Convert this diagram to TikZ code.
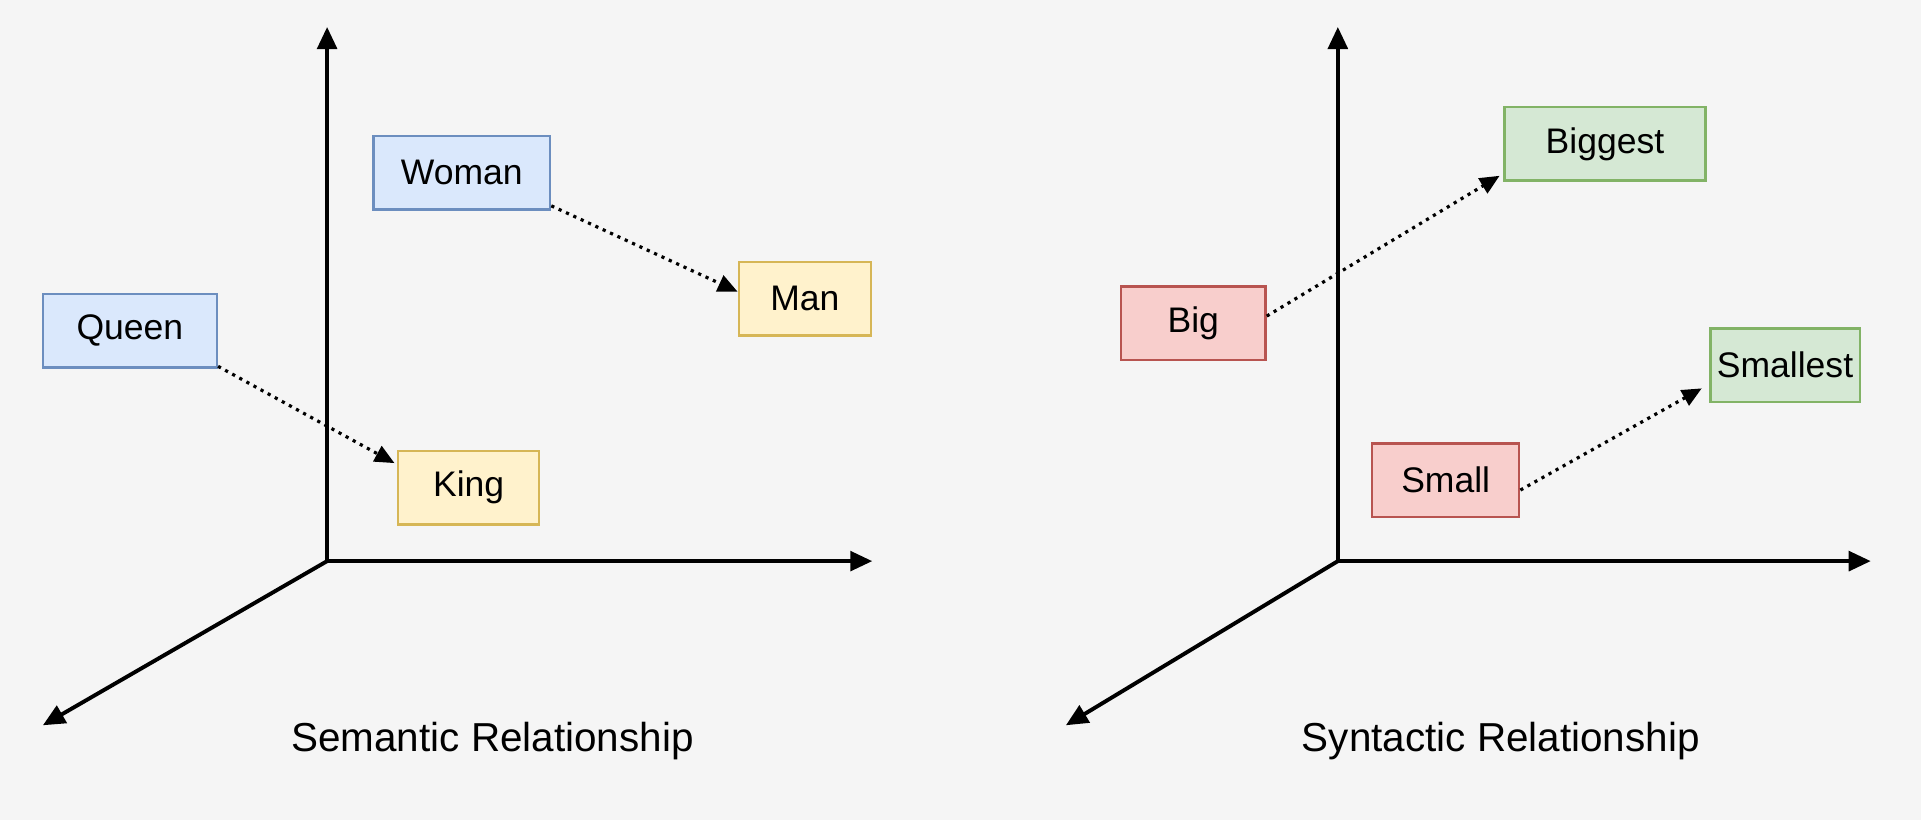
\documentclass[tikz,border=0pt]{standalone}
\usepackage{fontspec}
\setmainfont{Liberation Sans}
\usetikzlibrary{arrows.meta}
\definecolor{bF}{HTML}{DAE8FC}\definecolor{bD}{HTML}{6C8EBF}
\definecolor{yF}{HTML}{FFF2CC}\definecolor{yD}{HTML}{D6B656}
\definecolor{rF}{HTML}{F8CECC}\definecolor{rD}{HTML}{B85450}
\definecolor{gF}{HTML}{D5E8D4}\definecolor{gD}{HTML}{82B366}
\begin{document}
\begin{tikzpicture}[x=0.5pt,y=-0.5pt,
 box/.style={draw=#1D,fill=#1F,line width=1pt,minimum height=30pt,inner sep=0pt,font=\fontsize{14.5}{17}\selectfont},
 axis/.style={-{Triangle[length=9pt,width=8pt]},line width=1.6pt},
 rel/.style={-{Triangle[length=8pt,width=7pt]},dotted,line width=1.3pt},
 title/.style={font=\fontsize{16.5}{20}\selectfont}]
\useasboundingbox[fill=white!96!black] (0,0) rectangle (1568,669);
% left
\coordinate (O1) at (267,458);
\coordinate (U1) at (267,22);
\coordinate (R1) at (712,458);
\coordinate (D1) at (35,592);
\draw[axis] (O1)--(U1); \draw[axis] (O1)--(R1); \draw[axis] (O1)--(D1);
\node[box=b,minimum width=72pt] (woman) at (377,141) {Woman};
\node[box=y,minimum width=54pt] (man) at (657,244) {Man};
\node[box=b,minimum width=71pt] (queen) at (106,270) {Queen};
\node[box=y,minimum width=57.5pt] (king) at (382.5,398) {King};
\draw[rel] ([yshift=2pt]woman.south east) -- ([yshift=3pt]man.west);
\draw[rel] ([yshift=1pt]queen.south east) -- ([xshift=-1pt,yshift=10pt]king.west);
\node[title] (t1) at (402,605) {Semantic Relationship};
% right
\coordinate (O2) at (1092,458);
\coordinate (U2) at (1092,22);
\coordinate (R2) at (1527,458);
\coordinate (D2) at (870,592);
\draw[axis] (O2)--(U2); \draw[axis] (O2)--(R2); \draw[axis] (O2)--(D2);
\node[box=g,minimum width=82pt] (biggest) at (1310,117.5) {Biggest};
\node[box=r,minimum width=59pt] (big) at (974,264) {Big};
\node[box=g,minimum width=61pt] (smallest) at (1457,298) {Smallest};
\node[box=r,minimum width=60pt] (small) at (1180,392) {Small};
\draw[rel] ([yshift=3pt]big.east) -- ([xshift=-1.5pt,yshift=2.5pt]biggest.south west);
\draw[rel] ([yshift=-4pt]small.east) -- ([xshift=-3pt,yshift=6pt]smallest.south west);
\node[title] (t2) at (1225,605) {Syntactic Relationship};
\end{tikzpicture}
\end{document}
